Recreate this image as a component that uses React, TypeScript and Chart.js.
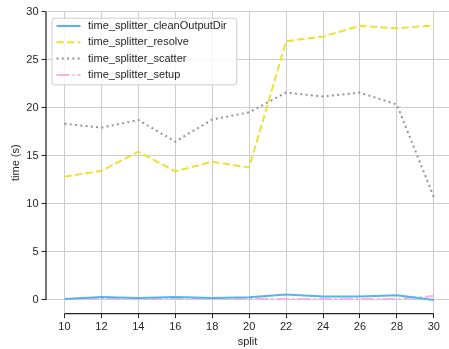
import { useEffect, useRef } from "react";
import { Chart, registerables } from "chart.js";

Chart.register(...registerables);

const splits = [10, 12, 14, 16, 18, 20, 22, 24, 26, 28, 30];
const cleanOutputDir = [0.1, 0.3, 0.2, 0.3, 0.2, 0.28, 0.58, 0.35, 0.35, 0.48, 0.0];
const resolve = [12.85, 13.45, 15.45, 13.4, 14.4, 13.8, 26.95, 27.45, 28.55, 28.3, 28.6];
const scatter = [18.35, 17.95, 18.75, 16.5, 18.8, 19.55, 21.6, 21.2, 21.6, 20.35, 10.7];
const setup = [0.1, 0.15, 0.1, 0.2, 0.15, 0.15, 0.1, 0.1, 0.1, 0.12, 0.42];
const seriesNames = [
  "time_splitter_cleanOutputDir",
  "time_splitter_resolve",
  "time_splitter_scatter",
  "time_splitter_setup",
];
const xTicks = [10, 12, 14, 16, 18, 20, 22, 24, 26, 28, 30];
const yTicks = [0, 5, 10, 15, 20, 25, 30];

const FONT = "'Liberation Sans', Arial, sans-serif";
const DARK = "#262626";
const GRID = "#cccccc";

const decor = {
  id: "decor",
  afterDraw(chart: any) {
    const { ctx, chartArea, scales } = chart;
    const xs = scales.x;
    const ys = scales.y;
    ctx.save();
    ctx.setLineDash([]);
    ctx.strokeStyle = DARK;
    ctx.lineWidth = 1.25;
    ctx.lineCap = "butt";
    ctx.beginPath();
    ctx.moveTo(chartArea.left, ys.getPixelForValue(yTicks[0]));
    ctx.lineTo(chartArea.left, ys.getPixelForValue(yTicks[yTicks.length - 1]));
    ctx.moveTo(xs.getPixelForValue(xTicks[0]), chartArea.bottom);
    ctx.lineTo(xs.getPixelForValue(xTicks[xTicks.length - 1]), chartArea.bottom);
    ctx.stroke();

    // legend
    ctx.font = `11px ${FONT}`;
    const ds = chart.data.datasets;
    let maxW = 0;
    ds.forEach((d: any) => {
      maxW = Math.max(maxW, ctx.measureText(d.label).width);
    });
    const bx = chartArea.left + 6;
    const by = chartArea.top + 6.5;
    const rowH = 16.3;
    const bw = 36 + maxW + 10;
    const bh = rowH * ds.length + 1.5;
    const r = 3;
    ctx.beginPath();
    ctx.moveTo(bx + r, by);
    ctx.arcTo(bx + bw, by, bx + bw, by + bh, r);
    ctx.arcTo(bx + bw, by + bh, bx, by + bh, r);
    ctx.arcTo(bx, by + bh, bx, by, r);
    ctx.arcTo(bx, by, bx + bw, by, r);
    ctx.closePath();
    ctx.fillStyle = "rgba(255,255,255,0.8)";
    ctx.fill();
    ctx.strokeStyle = GRID;
    ctx.lineWidth = 1;
    ctx.stroke();
    ds.forEach((d: any, i: number) => {
      const cy = by + 7.8 + i * rowH;
      ctx.beginPath();
      ctx.setLineDash(d.borderDash || []);
      ctx.strokeStyle = d.borderColor;
      ctx.lineWidth = d.borderWidth;
      ctx.moveTo(bx + 4.5, cy);
      ctx.lineTo(bx + 28.5, cy);
      ctx.stroke();
      ctx.setLineDash([]);
      ctx.fillStyle = DARK;
      ctx.textAlign = "left";
      ctx.textBaseline = "middle";
      ctx.fillText(d.label, bx + 36, cy);
    });
    ctx.restore();
  },
};

export default function App() {
  const ref = useRef<HTMLCanvasElement | null>(null);
  useEffect(() => {
    if (!ref.current) return;
    const mk = (vals: number[]) => splits.map((x, i) => ({ x, y: vals[i] }));
    const colors = ["#56B4E9", "#ECE133", "#949494", "#FBAFE4"];
    const dashes = [[], [7.4, 3.2], [2, 3.3], [12.8, 3.2, 2, 3.2]];
    const all = [cleanOutputDir, resolve, scatter, setup];
    const chart = new Chart(ref.current, {
      type: "line",
      data: {
        datasets: all.map((vals, i) => ({
          label: seriesNames[i],
          data: mk(vals),
          borderColor: colors[i],
          backgroundColor: colors[i],
          borderDash: dashes[i],
          borderWidth: 2,
          pointRadius: 0,
          tension: 0,
          fill: false,
        })),
      },
      options: {
        animation: false,
        responsive: false,
        layout: { padding: { top: 11.7, right: 0, left: 0, bottom: 0 } },
        plugins: { legend: { display: false }, tooltip: { enabled: false } },
        scales: {
          x: {
            type: "linear",
            min: 9,
            max: 30.82,
            afterBuildTicks: (s: any) => {
              s.ticks = xTicks.map((v) => ({ value: v }));
            },
            afterFit: (s: any) => {
              s.height = 35.3;
            },
            border: { display: false },
            grid: { color: GRID, lineWidth: 1, tickColor: DARK, tickLength: 4.5, drawTicks: true },
            ticks: {
              color: DARK,
              font: { family: FONT, size: 11 },
              padding: 2,
              maxRotation: 0,
              autoSkip: false,
            },
            title: {
              display: true,
              text: "split",
              color: DARK,
              font: { family: FONT, size: 11 },
              padding: { top: 0, bottom: 0.7 },
            },
          },
          y: {
            type: "linear",
            min: -1.43,
            max: 30.03,
            afterBuildTicks: (s: any) => {
              s.ticks = yTicks.map((v) => ({ value: v }));
            },
            afterFit: (s: any) => {
              s.width = 46;
            },
            border: { display: false },
            grid: { color: GRID, lineWidth: 1, tickColor: DARK, tickLength: 4.5, drawTicks: true },
            ticks: {
              color: DARK,
              font: { family: FONT, size: 11 },
              padding: 3,
            },
            title: {
              display: true,
              text: "time (s)",
              color: DARK,
              font: { family: FONT, size: 11 },
              padding: { top: 9.4, bottom: 0 },
            },
          },
        },
      },
      plugins: [decor],
    });
    return () => chart.destroy();
  }, []);
  return (
    <div style={{ position: "absolute", left: 0, top: 0, width: 449, height: 349, background: "#fff" }}>
      <canvas ref={ref} width={449} height={349} />
    </div>
  );
}
